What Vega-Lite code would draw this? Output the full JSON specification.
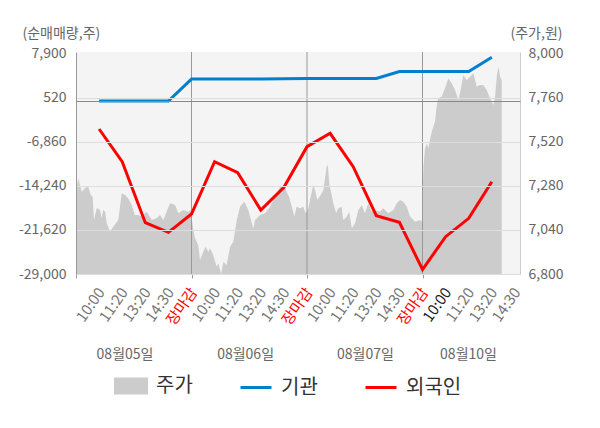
{
  "$schema": "https://vega.github.io/schema/vega-lite/v6.json",
  "width": 444,
  "height": 222,
  "autosize": {"type": "none"},
  "padding": {"left": 76, "top": 52, "right": 80, "bottom": 154},
  "config": {
    "font": "Noto Sans CJK KR",
    "view": {"fill": "#f4f4f4", "stroke": null}
  },
  "datasets": {
    "price": [
      {"t": -1.00, "p": 7249}, {"t": -0.90, "p": 7322}, {"t": -0.83, "p": 7285}, {"t": -0.75, "p": 7249},
      {"t": -0.61, "p": 7269}, {"t": -0.47, "p": 7276}, {"t": -0.36, "p": 7231}, {"t": -0.28, "p": 7222},
      {"t": -0.22, "p": 7095}, {"t": -0.10, "p": 7160}, {"t": 0.04, "p": 7149}, {"t": 0.11, "p": 7105},
      {"t": 0.18, "p": 7149}, {"t": 0.26, "p": 7140}, {"t": 0.33, "p": 7078}, {"t": 0.47, "p": 7031},
      {"t": 0.61, "p": 7058}, {"t": 0.83, "p": 7095}, {"t": 0.98, "p": 7240}, {"t": 1.12, "p": 7231},
      {"t": 1.26, "p": 7213}, {"t": 1.41, "p": 7176}, {"t": 1.55, "p": 7122}, {"t": 1.70, "p": 7122},
      {"t": 1.84, "p": 7113}, {"t": 2.06, "p": 7140}, {"t": 2.28, "p": 7095}, {"t": 2.49, "p": 7104},
      {"t": 2.64, "p": 7122}, {"t": 2.78, "p": 7095}, {"t": 3.07, "p": 7186}, {"t": 3.29, "p": 7176},
      {"t": 3.43, "p": 7131}, {"t": 3.65, "p": 7149}, {"t": 3.86, "p": 7140}, {"t": 3.96, "p": 7149},
      {"t": 4.08, "p": 7040}, {"t": 4.15, "p": 6996}, {"t": 4.29, "p": 6958}, {"t": 4.37, "p": 6876},
      {"t": 4.51, "p": 6922}, {"t": 4.61, "p": 6949}, {"t": 4.73, "p": 6922}, {"t": 4.80, "p": 6940},
      {"t": 4.94, "p": 6904}, {"t": 5.09, "p": 6840}, {"t": 5.16, "p": 6858}, {"t": 5.28, "p": 6800},
      {"t": 5.38, "p": 6867}, {"t": 5.52, "p": 6849}, {"t": 5.67, "p": 6949}, {"t": 5.81, "p": 6976},
      {"t": 5.96, "p": 7095}, {"t": 6.10, "p": 7167}, {"t": 6.29, "p": 7194}, {"t": 6.46, "p": 7149},
      {"t": 6.61, "p": 7077}, {"t": 6.68, "p": 7049}, {"t": 6.75, "p": 7095}, {"t": 6.97, "p": 7122},
      {"t": 7.18, "p": 7131}, {"t": 7.40, "p": 7167}, {"t": 7.61, "p": 7222}, {"t": 7.83, "p": 7276},
      {"t": 8.05, "p": 7267}, {"t": 8.22, "p": 7222}, {"t": 8.36, "p": 7158}, {"t": 8.45, "p": 7113},
      {"t": 8.55, "p": 7167}, {"t": 8.70, "p": 7158}, {"t": 8.84, "p": 7167}, {"t": 8.94, "p": 7131},
      {"t": 9.06, "p": 7158}, {"t": 9.16, "p": 7222}, {"t": 9.27, "p": 7285}, {"t": 9.35, "p": 7258},
      {"t": 9.45, "p": 7204}, {"t": 9.59, "p": 7231}, {"t": 9.71, "p": 7258}, {"t": 9.85, "p": 7385},
      {"t": 9.90, "p": 7395}, {"t": 9.97, "p": 7285}, {"t": 10.07, "p": 7231}, {"t": 10.14, "p": 7186},
      {"t": 10.26, "p": 7131}, {"t": 10.35, "p": 7158}, {"t": 10.50, "p": 7167}, {"t": 10.57, "p": 7095},
      {"t": 10.72, "p": 7113}, {"t": 10.83, "p": 7140}, {"t": 10.94, "p": 7049}, {"t": 11.08, "p": 7077},
      {"t": 11.22, "p": 7149}, {"t": 11.37, "p": 7176}, {"t": 11.51, "p": 7131}, {"t": 11.65, "p": 7186},
      {"t": 11.80, "p": 7140}, {"t": 11.94, "p": 7149}, {"t": 12.16, "p": 7140}, {"t": 12.30, "p": 7158},
      {"t": 12.52, "p": 7131}, {"t": 12.74, "p": 7149}, {"t": 12.88, "p": 7186}, {"t": 13.03, "p": 7204},
      {"t": 13.17, "p": 7194}, {"t": 13.32, "p": 7167}, {"t": 13.46, "p": 7113}, {"t": 13.68, "p": 7085},
      {"t": 13.89, "p": 7095}, {"t": 13.97, "p": 7085}, {"t": 14.04, "p": 7385}, {"t": 14.11, "p": 7486},
      {"t": 14.19, "p": 7513}, {"t": 14.25, "p": 7486}, {"t": 14.32, "p": 7531}, {"t": 14.40, "p": 7576},
      {"t": 14.47, "p": 7603}, {"t": 14.54, "p": 7631}, {"t": 14.61, "p": 7713}, {"t": 14.68, "p": 7758},
      {"t": 14.83, "p": 7767}, {"t": 14.97, "p": 7813}, {"t": 15.12, "p": 7867}, {"t": 15.26, "p": 7840},
      {"t": 15.41, "p": 7804}, {"t": 15.55, "p": 7749}, {"t": 15.62, "p": 7786}, {"t": 15.77, "p": 7885},
      {"t": 15.91, "p": 7858}, {"t": 16.06, "p": 7876}, {"t": 16.20, "p": 7895}, {"t": 16.35, "p": 7822},
      {"t": 16.49, "p": 7831}, {"t": 16.63, "p": 7831}, {"t": 16.78, "p": 7804}, {"t": 16.92, "p": 7758},
      {"t": 17.07, "p": 7722}, {"t": 17.14, "p": 7767}, {"t": 17.22, "p": 7885}, {"t": 17.29, "p": 7931},
      {"t": 17.36, "p": 7876}, {"t": 17.43, "p": 7858}
    ],
    "flow": [
      {"t": 0, "series": "기관", "v": 20}, {"t": 1, "series": "기관", "v": 20},
      {"t": 2, "series": "기관", "v": 20}, {"t": 3, "series": "기관", "v": 20},
      {"t": 4, "series": "기관", "v": 3700}, {"t": 5, "series": "기관", "v": 3690},
      {"t": 6, "series": "기관", "v": 3690}, {"t": 7, "series": "기관", "v": 3700},
      {"t": 8, "series": "기관", "v": 3760}, {"t": 9, "series": "기관", "v": 3770},
      {"t": 10, "series": "기관", "v": 3780}, {"t": 11, "series": "기관", "v": 3790},
      {"t": 12, "series": "기관", "v": 3800}, {"t": 13, "series": "기관", "v": 4950},
      {"t": 14, "series": "기관", "v": 4960}, {"t": 15, "series": "기관", "v": 4960},
      {"t": 16, "series": "기관", "v": 4970}, {"t": 17, "series": "기관", "v": 7350},
      {"t": 0, "series": "외국인", "v": -4680}, {"t": 1, "series": "외국인", "v": -10160},
      {"t": 2, "series": "외국인", "v": -20400}, {"t": 3, "series": "외국인", "v": -22010},
      {"t": 4, "series": "외국인", "v": -18940}, {"t": 5, "series": "외국인", "v": -10160},
      {"t": 6, "series": "외국인", "v": -12010}, {"t": 7, "series": "외국인", "v": -18270},
      {"t": 8, "series": "외국인", "v": -14460}, {"t": 9, "series": "외국인", "v": -7650},
      {"t": 10, "series": "외국인", "v": -5400}, {"t": 11, "series": "외국인", "v": -11000},
      {"t": 12, "series": "외국인", "v": -19220}, {"t": 13, "series": "외국인", "v": -20330},
      {"t": 14, "series": "외국인", "v": -28250}, {"t": 15, "series": "외국인", "v": -22740},
      {"t": 16, "series": "외국인", "v": -19660}, {"t": 17, "series": "외국인", "v": -13520}
    ],
    "closes": [{"t": 4}, {"t": 9}, {"t": 14}]
  },
  "layer": [
    {
      "data": {"name": "price"},
      "mark": {"type": "area", "clip": true},
      "encoding": {
        "x": {
          "field": "t", "type": "quantitative",
          "scale": {"domain": [-1, 18.22], "nice": false, "zero": false},
          "axis": {
            "orient": "bottom", "values": [1.1, 6.32, 11.51, 15.97],
            "labelExpr": "datum.value < 3 ? '08월05일' : datum.value < 8 ? '08월06일' : datum.value < 13 ? '08월07일' : '08월10일'",
            "offset": 73, "domain": false, "ticks": false, "grid": false,
            "labelAngle": 0, "labelBaseline": "top", "labelPadding": 0, "labelFlush": false,
            "labelFontSize": 14, "labelColor": "#666666", "title": null
          }
        },
        "y": {
          "field": "p", "type": "quantitative",
          "scale": {"domain": [6800, 8010.9], "nice": false, "zero": false},
          "axis": {
            "orient": "right", "values": [6800, 7040, 7280, 7520, 7760, 8000],
            "labelExpr": "format(datum.value, ',')",
            "ticks": false, "grid": false, "domainColor": "#cccccc",
            "labelColor": "#666666", "labelFontSize": 14, "labelPadding": 8,
            "title": "(주가,원)", "titleAngle": 0, "titleAlign": "left", "titleBaseline": "middle",
            "titleX": -10, "titleY": -19, "titleColor": "#666666", "titleFontSize": 14, "titleFontWeight": "normal"
          }
        },
        "color": {
          "datum": "주가", "type": "nominal",
          "scale": {"domain": ["주가", "기관", "외국인"], "range": ["#cccccc", "#0080cc", "#ff0000"]},
          "legend": {
            "orient": "none", "legendX": 38, "legendY": 317, "direction": "horizontal", "title": null,
            "labelFontSize": 20, "labelColor": "#333333", "labelOffset": 8, "columnPadding": 41,
            "symbolSize": 961, "symbolStrokeWidth": 3, "symbolType": "stroke",
            "encode": {
              "symbols": {
                "update": {
                  "shape": [{"test": "datum.value === '주가'", "value": "M-1,-0.45H1V0.45H-1Z"}, {"value": "M-1,0H1"}],
                  "fill": [{"test": "datum.value === '주가'", "value": "#cccccc"}, {"value": "transparent"}],
                  "stroke": [{"test": "datum.value === '주가'", "value": "transparent"}, {"test": "datum.value === '기관'", "value": "#0080cc"}, {"value": "#ff0000"}],
                  "strokeWidth": {"value": 3},
                  "opacity": {"value": 1}
                }
              }
            }
          }
        }
      }
    },
    {
      "data": {"name": "closes"},
      "mark": {"type": "rule", "color": "#999999"},
      "encoding": {
        "x": {
          "field": "t", "type": "quantitative",
          "scale": {"domain": [-1, 18.22], "nice": false, "zero": false},
          "axis": {
            "orient": "bottom", "values": [-1, 4, 9, 14], "labels": false,
            "ticks": true, "tickSize": 4, "tickColor": "#999999",
            "domain": false, "grid": false, "title": null
          }
        }
      }
    },
    {
      "data": {"name": "flow"},
      "mark": {"type": "line", "strokeWidth": 3},
      "encoding": {
        "x": {
          "field": "t", "type": "quantitative",
          "scale": {"domain": [-1, 18.22], "nice": false, "zero": false},
          "axis": {
            "orient": "bottom", "values": [0, 1, 2, 3, 4, 5, 6, 7, 8, 9, 10, 11, 12, 13, 14, 15, 16, 17, 18],
            "labelExpr": "['10:00','11:20','13:20','14:30','장마감'][datum.value % 5]",
            "labelAngle": -55, "labelAlign": "right", "labelBaseline": "top", "labelPadding": 11,
            "labelOffset": -4,
            "labelFontSize": 15, "labelOverlap": false, "labelBound": false, "labelFlush": false,
            "labelColor": {"expr": "datum.value % 5 === 4 ? '#ff0000' : datum.value === 15 ? '#222222' : '#777777'"},
            "ticks": false, "domainColor": "#999999", "grid": false, "title": null
          }
        },
        "y": {
          "field": "v", "type": "quantitative",
          "scale": {"domain": [-29000, 8235], "nice": false, "zero": false},
          "axis": {
            "orient": "left", "values": [-29000, -21620, -14240, -6860, 0, 520, 7900],
            "labelExpr": "datum.value === 0 ? '' : replace(format(datum.value, ','), '\u2212', '-')",
            "ticks": false, "domainColor": "#999999", "grid": true, "zindex": 1,
            "gridColor": {"expr": "datum.value === 0 ? '#888888' : datum.value === 7900 ? 'transparent' : '#dddddd'"},
            "labelColor": "#666666", "labelFontSize": 14, "labelPadding": 10,
            "title": "(순매매량,주)", "titleAngle": 0, "titleAlign": "left", "titleBaseline": "middle",
            "titleX": -54, "titleY": -19, "titleColor": "#666666", "titleFontSize": 14, "titleFontWeight": "normal"
          }
        },
        "color": {
          "field": "series", "type": "nominal",
          "scale": {"domain": ["주가", "기관", "외국인"], "range": ["#cccccc", "#0080cc", "#ff0000"]},
          "legend": {
            "orient": "none", "legendX": 38, "legendY": 317, "direction": "horizontal", "title": null,
            "labelFontSize": 20, "labelColor": "#333333", "labelOffset": 8, "columnPadding": 41,
            "symbolSize": 961, "symbolStrokeWidth": 3, "symbolType": "stroke",
            "encode": {
              "symbols": {
                "update": {
                  "shape": [{"test": "datum.value === '주가'", "value": "M-1,-0.45H1V0.45H-1Z"}, {"value": "M-1,0H1"}],
                  "fill": [{"test": "datum.value === '주가'", "value": "#cccccc"}, {"value": "transparent"}],
                  "stroke": [{"test": "datum.value === '주가'", "value": "transparent"}, {"test": "datum.value === '기관'", "value": "#0080cc"}, {"value": "#ff0000"}],
                  "strokeWidth": {"value": 3},
                  "opacity": {"value": 1}
                }
              }
            }
          }
        }
      }
    }
  ],
  "resolve": {
    "scale": {"y": "independent"},
    "axis": {"x": "independent", "y": "independent"}
  }
}
